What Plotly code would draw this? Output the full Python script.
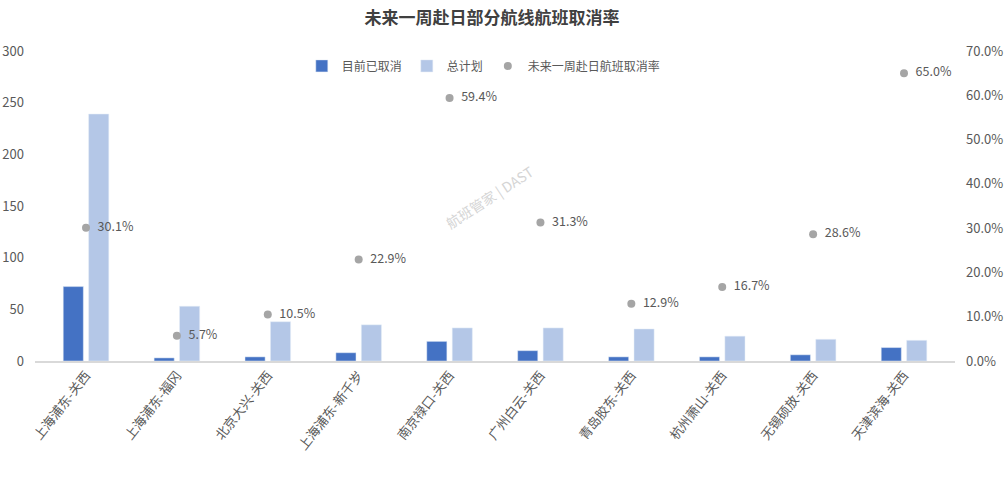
import plotly.graph_objects as go

routes = ["上海浦东-关西", "上海浦东-福冈", "北京大兴-关西", "上海浦东-新千岁", "南京禄口-关西",
          "广州白云-关西", "青岛胶东-关西", "杭州萧山-关西", "无锡硕放-关西", "天津滨海-关西"]
cancelled = [72, 3, 4, 8, 19, 10, 4, 4, 6, 13]
planned = [239, 53, 38, 35, 32, 32, 31, 24, 21, 20]
rate = [0.301, 0.057, 0.105, 0.229, 0.594, 0.313, 0.129, 0.167, 0.286, 0.650]

FONT = "Noto Sans CJK SC, Noto Sans, sans-serif"
GREY = "#595959"

fig = go.Figure()
fig.add_trace(go.Bar(x=routes, y=cancelled, name="目前已取消", marker_color="#4472C4"))
fig.add_trace(go.Bar(x=routes, y=planned, name="总计划", marker_color="#B4C7E7"))
fig.add_trace(go.Scatter(x=routes, y=rate, name="未来一周赴日航班取消率", yaxis="y2",
                         mode="markers+text", marker=dict(color="#A5A5A5", size=8),
                         text=[f"  {r*100:.1f}%" for r in rate], textposition="middle right",
                         textfont=dict(size=12.5, color=GREY, family=FONT)))

fig.update_layout(
    width=1004, height=479,
    paper_bgcolor="white", plot_bgcolor="white",
    margin=dict(l=35, r=49, t=51, b=118),
    font=dict(family=FONT, color=GREY, size=12),
    title=dict(text="<b>未来一周赴日部分航线航班取消率</b>", x=0.49, xanchor="center", y=0.962, yanchor="middle",
               font=dict(size=17, color="#404040", family=FONT)),
    barmode="group", bargap=0.44, bargroupgap=0.21,
    showlegend=True,
    legend=dict(orientation="h", x=0.29, xanchor="left", y=0.952, yanchor="middle",
                font=dict(size=12, color=GREY), bgcolor="rgba(0,0,0,0)", itemwidth=30),
    xaxis=dict(tickangle=-52, showline=True, linecolor="#D9D9D9", linewidth=1.5, automargin=False,
               ticks="", tickfont=dict(size=13, color=GREY)),
    yaxis=dict(range=[0, 300], dtick=50, showgrid=False, zeroline=False, ticks="", automargin=False,
               ticklabelstandoff=10, tickfont=dict(size=13, color=GREY)),
    yaxis2=dict(range=[0, 0.7], dtick=0.1, tickformat=".1%", overlaying="y", side="right", automargin=False,
                ticklabelstandoff=10, showgrid=False, zeroline=False, ticks="", tickfont=dict(size=13, color=GREY)),
    annotations=[dict(text="航班管家 | DAST", x=0.494, y=0.53, xref="paper", yref="paper",
                      showarrow=False, textangle=-33, font=dict(size=14, color="#D5D5D5", family=FONT))],
)

fig.write_html("out.html", config={"displayModeBar": False},
               post_script="document.body.style.margin='0px';")
